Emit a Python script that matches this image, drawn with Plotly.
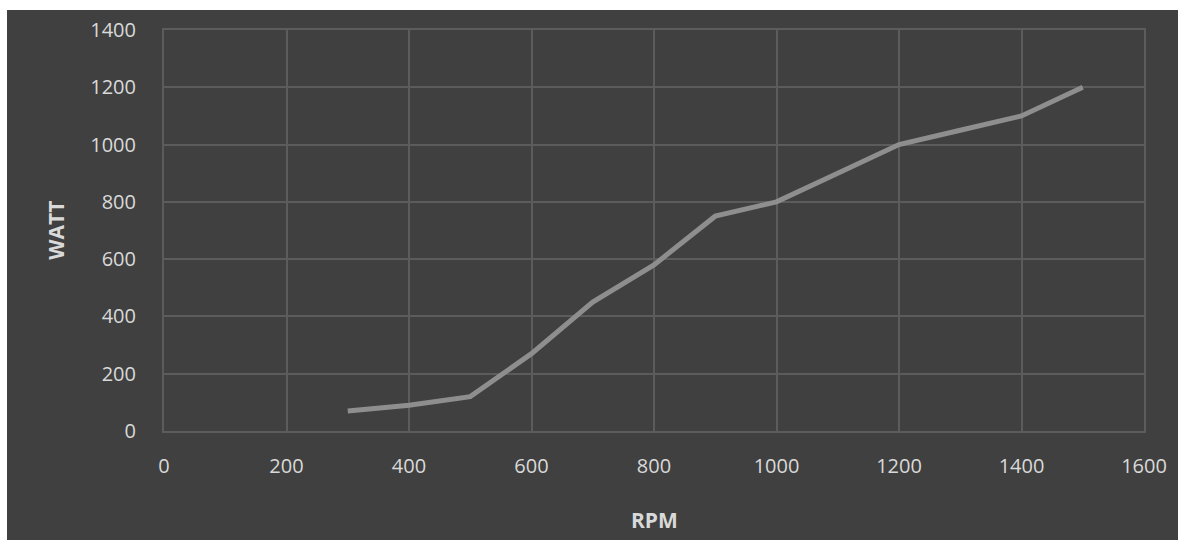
import plotly.graph_objects as go

rpm = [300, 400, 500, 600, 700, 800, 900, 1000, 1100, 1200, 1300, 1400, 1500]
watt = [70, 90, 120, 270, 450, 580, 750, 800, 900, 1000, 1050, 1100, 1200]

BG = "#404040"
GRID = "#5c5c5c"
LINE = "#8e8e8e"
TEXT = "#d9d9d9"
FONT = "Open Sans"

fig = go.Figure()
fig.add_trace(
    go.Scatter(
        x=rpm,
        y=watt,
        mode="lines",
        line=dict(color=LINE, width=5),
        hoverinfo="x+y",
    )
)

axis_style = dict(
    showgrid=True,
    gridcolor=GRID,
    gridwidth=2,
    zeroline=False,
    showline=True,
    linecolor=GRID,
    linewidth=2,
    mirror=True,
    tickfont=dict(family=FONT, size=20, color=TEXT),
    ticks="",
)

fig.update_xaxes(range=[0, 1600], dtick=200, ticklabelstandoff=16, **axis_style)
fig.update_yaxes(range=[0, 1400], dtick=200, ticklabelstandoff=22, **axis_style)

# dark panel, leaving a thin white strip at the top and left
fig.add_shape(
    type="rect", xref="paper", yref="paper",
    x0=-0.1602, x1=1.2, y0=-0.4, y1=1.0499,
    fillcolor=BG, line_width=0, layer="below",
)

fig.add_annotation(
    text="<b>RPM</b>", xref="paper", yref="paper", x=0.5, y=-0.222,
    xanchor="center", yanchor="middle",
    showarrow=False, font=dict(family=FONT, size=21, color=TEXT),
)
fig.add_annotation(
    text="<b>WATT</b>", xref="paper", yref="paper", x=-0.111, y=0.5,
    xanchor="center", yanchor="middle",
    textangle=-90, showarrow=False, font=dict(family=FONT, size=21, color=TEXT),
)

fig.update_layout(
    width=1178,
    height=540,
    margin=dict(l=164, r=34, t=30, b=109),
    paper_bgcolor="white",
    plot_bgcolor=BG,
    showlegend=False,
)

# drop the default page margin so the figure fills the window
fig.write_html(
    "out.html",
    config={"displayModeBar": False},
    post_script="document.body.style.margin='0';document.body.style.overflow='hidden';",
)
